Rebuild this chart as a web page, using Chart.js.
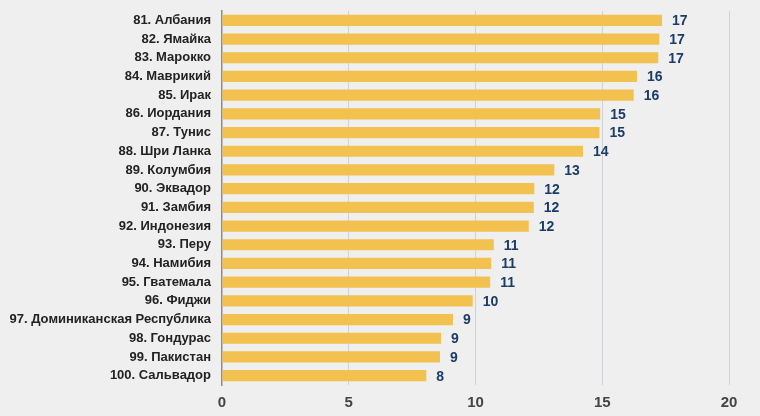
<!DOCTYPE html>
<html>
<head>
<meta charset="utf-8">
<script src="https://cdn.jsdelivr.net/npm/chart.js@4/dist/chart.umd.min.js"></script>
<style>
  html, body { margin: 0; padding: 0; background: #efefef; }
  #wrap { width: 760px; height: 416px; position: relative; }
</style>
</head>
<body>
<div id="wrap"><canvas id="bar-chart"></canvas></div>
<script>
// Countries (ranked 81-100)
const countries = [
  '81. Албания', '82. Ямайка', '83. Марокко', '84. Маврикий', '85. Ирак',
  '86. Иордания', '87. Тунис', '88. Шри Ланка', '89. Колумбия', '90. Эквадор',
  '91. Замбия', '92. Индонезия', '93. Перу', '94. Намибия', '95. Гватемала',
  '96. Фиджи', '97. Доминиканская Республика', '98. Гондурас', '99. Пакистан', '100. Сальвадор'
];

// Values
const scores = [
  17.36, 17.25, 17.21, 16.37, 16.24,
  14.92, 14.89, 14.24, 13.11, 12.32,
  12.30, 12.10, 10.72, 10.62, 10.58,
  9.89, 9.11, 8.64, 8.60, 8.06
];

const xTicks = [0, 5, 10, 15, 20];

// Draws the rounded value to the right of each bar
const valueLabels = {
  id: 'valueLabels',
  afterDatasetsDraw(chart) {
    const ctx = chart.ctx;
    const meta = chart.getDatasetMeta(0);
    ctx.save();
    ctx.font = 'bold 14px "Liberation Sans", Arial, sans-serif';
    ctx.fillStyle = '#1b3b68';
    ctx.textAlign = 'left';
    ctx.textBaseline = 'middle';
    meta.data.forEach((bar, i) => {
      ctx.fillText(Math.round(scores[i]), bar.x + 10, bar.y + 1);
    });
    ctx.restore();
  }
};

const ctx = document.getElementById('bar-chart').getContext('2d');
const barChart = new Chart(ctx, {
  type: 'bar',
  data: {
    labels: countries,
    datasets: [{
      data: scores,
      backgroundColor: '#f2c14f',
      borderWidth: 0,
      barPercentage: 0.6,
      categoryPercentage: 1.0
    }]
  },
  options: {
    indexAxis: 'y',
    responsive: true,
    maintainAspectRatio: false,
    animation: false,
    layout: { padding: { top: 11, right: 31, bottom: 0, left: 0 } },
    plugins: {
      legend: { display: false },
      tooltip: { enabled: false }
    },
    scales: {
      x: {
        min: 0,
        max: 20,
        afterBuildTicks: (scale) => { scale.ticks = xTicks.map(v => ({ value: v })); },
        afterFit: (scale) => { scale.height = 31; scale.paddingLeft = 0; scale.paddingRight = 0; },
        grid: {
          drawTicks: false,
          color: (c) => c.tick && c.tick.value === 0 ? 'rgba(0,0,0,0)' : '#cdd1d8',
          lineWidth: 1
        },
        border: { display: false },
        ticks: {
          padding: 9,
          color: '#444444',
          font: { family: '"Liberation Sans", Arial, sans-serif', size: 15, weight: 'bold' }
        }
      },
      y: {
        afterFit: (scale) => { scale.width = 222; scale.paddingTop = 0; scale.paddingBottom = 0; },
        grid: { display: false, drawTicks: false },
        border: { display: true, color: '#8c8c8c', width: 1.5 },
        ticks: {
          padding: 11,
          color: '#222222',
          font: { family: '"Liberation Sans", Arial, sans-serif', size: 13, weight: 'bold' }
        }
      }
    }
  },
  plugins: [valueLabels]
});
</script>
</body>
</html>
